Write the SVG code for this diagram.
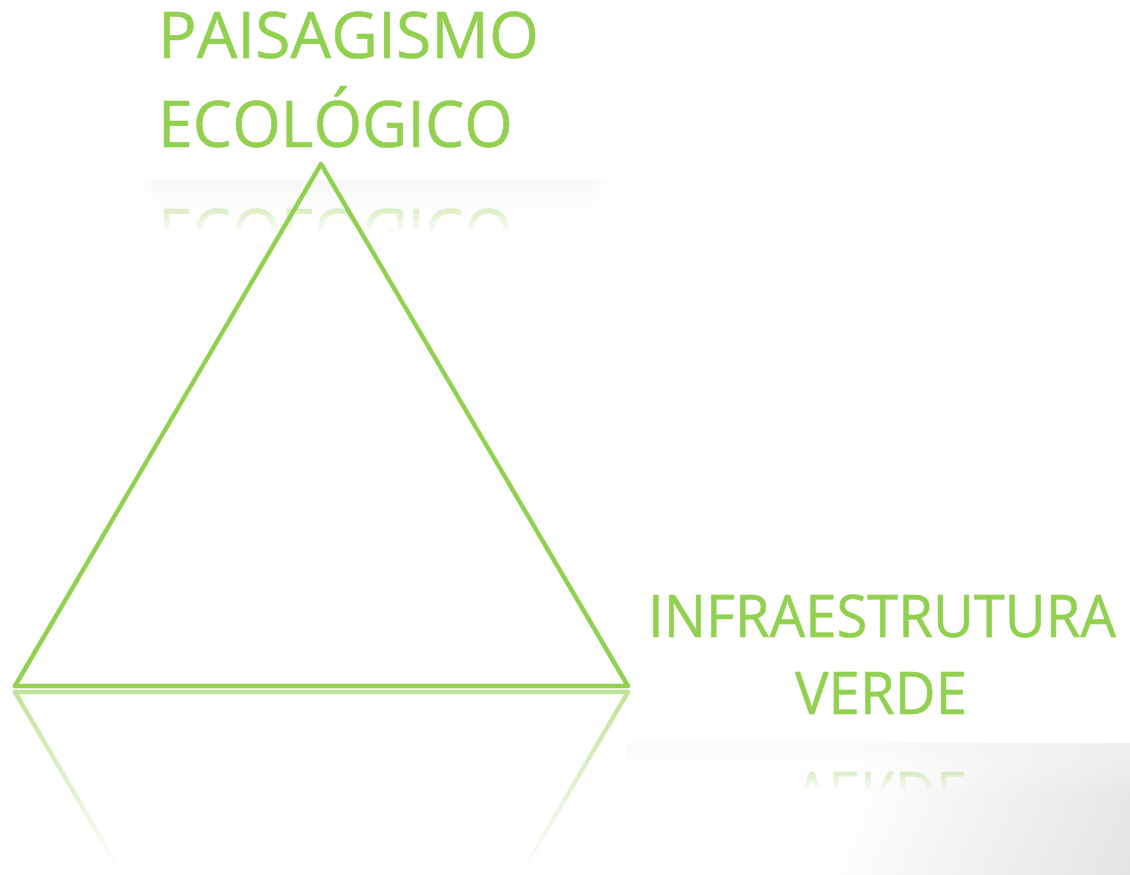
<svg xmlns="http://www.w3.org/2000/svg" width="1130" height="875" viewBox="0 0 1130 875">
<defs>
<style>
.lbl{font-family:"Open Sans","Liberation Sans",sans-serif;fill:#92D050;stroke:#92D050;stroke-width:0.6;}
.tri{fill:none;stroke:#92D050;stroke-width:4.5;stroke-linejoin:round;stroke-linecap:round;}
</style>
<linearGradient id="gTri" gradientUnits="userSpaceOnUse" x1="0" y1="688" x2="0" y2="872">
<stop offset="0" stop-color="#fff" stop-opacity="0.6"/>
<stop offset="1" stop-color="#fff" stop-opacity="0"/>
</linearGradient>
<mask id="mTri" maskUnits="userSpaceOnUse" x="0" y="688" width="1130" height="187">
<rect x="0" y="688" width="1130" height="187" fill="url(#gTri)"/>
</mask>
<linearGradient id="gEco" gradientUnits="userSpaceOnUse" x1="0" y1="200" x2="0" y2="234">
<stop offset="0" stop-color="#fff" stop-opacity="0.45"/>
<stop offset="1" stop-color="#fff" stop-opacity="0"/>
</linearGradient>
<mask id="mEco" maskUnits="userSpaceOnUse" x="0" y="178" width="1130" height="60">
<rect x="0" y="178" width="1130" height="60" fill="url(#gEco)"/>
</mask>
<linearGradient id="gVer" gradientUnits="userSpaceOnUse" x1="0" y1="765" x2="0" y2="792">
<stop offset="0" stop-color="#fff" stop-opacity="0.45"/>
<stop offset="1" stop-color="#fff" stop-opacity="0"/>
</linearGradient>
<mask id="mVer" maskUnits="userSpaceOnUse" x="0" y="743" width="1130" height="60">
<rect x="0" y="743" width="1130" height="60" fill="url(#gVer)"/>
</mask>
<linearGradient id="gBand" x1="0" y1="0" x2="0" y2="1">
<stop offset="0" stop-color="#f4f4f4" stop-opacity="0.9"/>
<stop offset="1" stop-color="#ffffff" stop-opacity="0"/>
</linearGradient>
<linearGradient id="gBandH" x1="0" y1="0" x2="1" y2="0">
<stop offset="0" stop-color="#fff" stop-opacity="1"/>
<stop offset="0.06" stop-color="#fff" stop-opacity="0"/>
<stop offset="0.94" stop-color="#fff" stop-opacity="0"/>
<stop offset="1" stop-color="#fff" stop-opacity="1"/>
</linearGradient>
<linearGradient id="gCorner" gradientUnits="userSpaceOnUse" x1="860" y1="760" x2="1130" y2="875">
<stop offset="0" stop-color="#ffffff"/>
<stop offset="1" stop-color="#e4e4e4"/>
</linearGradient>
</defs>
<rect width="1130" height="875" fill="#fff"/>

<g id="backgrounds">
<rect x="626" y="743" width="504" height="132" fill="url(#gCorner)"/>
<rect x="626" y="743" width="504" height="50" fill="url(#gBand)" opacity="0.6"/>
<rect x="135" y="180" width="477" height="53" fill="url(#gBand)"/>
<rect x="135" y="180" width="477" height="53" fill="url(#gBandH)"/>
</g>

<g id="triangle">
<polygon class="tri" points="321,164 15,686 628,686"/>
</g>
<g id="triangle-reflection" mask="url(#mTri)">
<g transform="translate(0,1378) scale(1,-1)">
<polygon class="tri" points="321,164 15,686 628,686"/>
</g>
</g>

<g id="node-paisagismo">
<text class="lbl" x="158" y="58" font-size="64" textLength="381" lengthAdjust="spacingAndGlyphs">PAISAGISMO</text>
<text class="lbl" x="158" y="147" font-size="64" textLength="355" lengthAdjust="spacingAndGlyphs">ECOLÓGICO</text>
<g mask="url(#mEco)">
<g transform="translate(0,356) scale(1,-1)">
<text class="lbl" x="158" y="147" font-size="64" textLength="355" lengthAdjust="spacingAndGlyphs">ECOLÓGICO</text>
</g>
</g>
</g>

<g id="node-infraestrutura">
<text class="lbl" x="648" y="637" font-size="59" textLength="468" lengthAdjust="spacingAndGlyphs">INFRAESTRUTURA</text>
<text class="lbl" x="795" y="714" font-size="59" textLength="172" lengthAdjust="spacingAndGlyphs">VERDE</text>
<g mask="url(#mVer)">
<g transform="translate(0,1486) scale(1,-1)">
<text class="lbl" x="795" y="714" font-size="59" textLength="172" lengthAdjust="spacingAndGlyphs">VERDE</text>
</g>
</g>
</g>
</svg>
